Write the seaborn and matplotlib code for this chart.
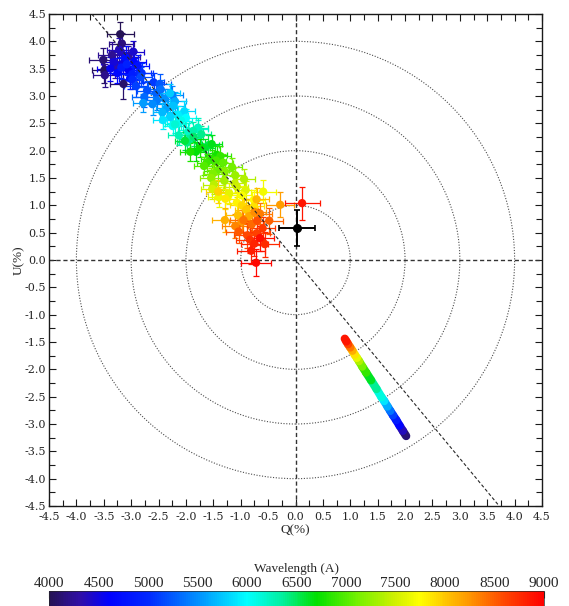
import numpy as np
import pandas as pd
import matplotlib
matplotlib.use("Agg")
import matplotlib.pyplot as plt
import seaborn as sns
from matplotlib.colors import LinearSegmentedColormap, Normalize
from matplotlib.collections import LineCollection
from matplotlib.patches import Circle
from matplotlib.ticker import MultipleLocator, FormatStrFormatter
from matplotlib.cm import ScalarMappable

# ---------------- data ----------------
wavelength = [
    4000, 4040, 4080, 4120, 4160, 4200, 4240, 4280, 4320, 4360,
    4400, 4440, 4480, 4520, 4560, 4600, 4640, 4680, 4720, 4760,
    4800, 4840, 4880, 4920, 4960, 5000, 5040, 5080, 5120, 5160,
    5200, 5240, 5280, 5320, 5360, 5400, 5440, 5480, 5520, 5560,
    5600, 5640, 5680, 5720, 5760, 5800, 5840, 5880, 5920, 5960,
    6000, 6040, 6080, 6120, 6160, 6200, 6240, 6280, 6320, 6360,
    6400, 6440, 6480, 6520, 6560, 6600, 6640, 6680, 6720, 6760,
    6800, 6840, 6880, 6920, 6960, 7000, 7040, 7080, 7120, 7160,
    7200, 7240, 7280, 7320, 7360, 7400, 7440, 7480, 7520, 7560,
    7600, 7640, 7680, 7720, 7760, 7800, 7840, 7880, 7920, 7960,
    8000, 8040, 8080, 8120, 8160, 8200, 8240, 8280, 8320, 8360,
    8400, 8440, 8480, 8520, 8560, 8600, 8640, 8680, 8720, 8760,
    8800, 8840, 8880, 8920, 8960]

q_pct = [
    -3.20, -3.49, -3.14, -3.51, -3.17, -3.48, -3.35, -3.05, -3.30, -3.22,
    -3.19, -2.96, -3.32, -3.14, -3.38, -3.05, -2.95, -3.25, -3.10, -3.02,
    -2.88, -3.18, -2.98, -3.08, -2.85, -2.98, -2.81, -2.59, -2.91, -2.82,
    -2.71, -2.48, -2.54, -2.76, -2.46, -2.53, -2.25, -2.61, -2.39, -2.78,
    -2.35, -2.20, -2.43, -2.23, -2.29, -2.29, -2.03, -2.42, -2.15, -2.15,
    -2.00, -2.24, -2.09, -1.78, -2.20, -1.96, -1.78, -2.13, -1.87, -1.93,
    -1.72, -1.98, -1.86, -1.59, -2.02, -1.66, -1.53, -1.82, -1.74, -1.44,
    -1.92, -1.53, -1.37, -1.62, -1.45, -1.67, -1.32, -1.41, -1.16, -1.51,
    -1.29, -1.54, -1.10, -1.30, -0.94, -1.49, -1.11, -1.07, -1.52, -0.91,
    -1.21, -1.40, -0.59, -0.98, -0.76, -1.07, -1.28, -0.76, -0.98, -1.41,
    -0.90, -1.05, -0.71, -1.29, -0.85, -0.28, -0.98, -0.75, -1.10, -0.65,
    -0.95, -0.80, -0.48, -1.04, -0.70, -0.88, -0.71, -0.60, -0.83, -0.56,
    -0.75, -0.81, 0.12, -0.65, -0.72]

u_pct = [
    4.13, 3.47, 3.22, 3.66, 3.96, 3.38, 3.75, 3.72, 3.55, 3.85,
    3.81, 3.81, 3.62, 3.60, 3.50, 3.48, 3.62, 3.42, 3.70, 3.32,
    3.55, 3.52, 3.40, 3.58, 3.42, 3.30, 3.42, 3.25, 3.18, 3.35,
    3.10, 3.22, 3.05, 2.98, 3.12, 2.92, 3.02, 2.85, 2.95, 2.87,
    2.78, 2.90, 2.70, 2.82, 3.05, 2.62, 2.72, 2.56, 2.66, 2.50,
    2.60, 2.45, 2.55, 2.40, 2.48, 2.35, 2.42, 2.28, 2.36, 2.22,
    2.30, 2.15, 2.25, 2.10, 2.18, 2.05, 2.12, 1.98, 2.05, 1.92,
    1.98, 1.85, 1.90, 1.78, 1.82, 1.72, 1.78, 1.65, 1.70, 1.58,
    1.62, 1.50, 1.55, 1.45, 1.48, 1.38, 1.40, 1.34, 1.30, 1.28,
    1.22, 1.15, 1.25, 1.18, 1.10, 1.05, 1.12, 0.98, 1.00, 1.25,
    0.92, 0.82, 1.11, 0.73, 0.80, 1.01, 0.70, 0.88, 0.62, 0.85,
    0.73, 0.65, 0.72, 0.52, 0.72, 0.45, 0.49, 0.58, 0.37, 0.29,
    0.30, 0.17, 1.04, 0.40, -0.05]

q_err = [
    0.25, 0.22, 0.24, 0.26, 0.23, 0.22, 0.25, 0.21, 0.24, 0.22,
    0.22, 0.20, 0.23, 0.21, 0.24, 0.20, 0.22, 0.21, 0.23, 0.20,
    0.21, 0.22, 0.20, 0.23, 0.21, 0.20, 0.21, 0.19, 0.22, 0.20,
    0.19, 0.21, 0.20, 0.22, 0.19, 0.20, 0.19, 0.21, 0.20, 0.18,
    0.19, 0.20, 0.18, 0.21, 0.19, 0.18, 0.20, 0.19, 0.18, 0.20,
    0.19, 0.18, 0.20, 0.19, 0.18, 0.18, 0.19, 0.20, 0.18, 0.19,
    0.18, 0.19, 0.18, 0.20, 0.18, 0.19, 0.18, 0.19, 0.18, 0.19,
    0.18, 0.19, 0.20, 0.18, 0.19, 0.19, 0.18, 0.20, 0.19, 0.18,
    0.19, 0.20, 0.18, 0.19, 0.20, 0.20, 0.19, 0.21, 0.20, 0.19,
    0.21, 0.20, 0.23, 0.19, 0.20, 0.21, 0.20, 0.19, 0.21, 0.23,
    0.21, 0.22, 0.23, 0.24, 0.22, 0.25, 0.23, 0.22, 0.24, 0.22,
    0.24, 0.22, 0.26, 0.23, 0.24, 0.25, 0.24, 0.23, 0.26, 0.25,
    0.24, 0.26, 0.32, 0.25, 0.27]

u_err = [
    0.23, 0.24, 0.27, 0.22, 0.20, 0.21, 0.23, 0.20, 0.22, 0.21,
    0.20, 0.19, 0.21, 0.20, 0.22, 0.19, 0.20, 0.19, 0.21, 0.19,
    0.20, 0.19, 0.18, 0.20, 0.19, 0.18, 0.19, 0.17, 0.20, 0.18,
    0.17, 0.19, 0.18, 0.19, 0.17, 0.18, 0.17, 0.19, 0.18, 0.17,
    0.17, 0.18, 0.17, 0.19, 0.17, 0.17, 0.18, 0.17, 0.16, 0.18,
    0.17, 0.16, 0.18, 0.17, 0.16, 0.16, 0.17, 0.18, 0.16, 0.17,
    0.16, 0.17, 0.16, 0.18, 0.16, 0.17, 0.16, 0.17, 0.16, 0.17,
    0.16, 0.17, 0.18, 0.16, 0.17, 0.17, 0.16, 0.18, 0.17, 0.16,
    0.17, 0.18, 0.16, 0.17, 0.18, 0.18, 0.17, 0.19, 0.18, 0.17,
    0.19, 0.18, 0.21, 0.17, 0.18, 0.19, 0.18, 0.17, 0.19, 0.21,
    0.19, 0.20, 0.21, 0.22, 0.20, 0.23, 0.21, 0.20, 0.22, 0.20,
    0.22, 0.20, 0.24, 0.21, 0.22, 0.23, 0.22, 0.21, 0.24, 0.23,
    0.22, 0.24, 0.30, 0.23, 0.25]

# interstellar (ISP) estimate point
isp_q, isp_u, isp_qerr, isp_uerr = 0.02, 0.58, 0.33, 0.33

# model (intrinsic) track
model_wavelength = [4000, 4250, 4500, 4750, 5000, 5250, 5500, 5750, 6000, 6250,
                    6500, 6750, 7000, 7250, 7500, 7750, 8000, 8250, 8500, 8750, 9000]
model_q = [2.02, 1.96, 1.90, 1.84, 1.78, 1.73, 1.68, 1.62, 1.57, 1.48,
           1.38, 1.29, 1.22, 1.16, 1.12, 1.08, 1.04, 1.00, 0.96, 0.93, 0.90]
model_u = [-3.22, -3.125, -3.03, -2.93, -2.84, -2.76, -2.68, -2.58, -2.51, -2.36,
           -2.20, -2.06, -1.95, -1.85, -1.79, -1.73, -1.66, -1.60, -1.54, -1.49, -1.44]

# dominant-axis slope through the origin
axis_slope = -1.21
circle_radii = [1, 2, 3, 4]

cbar_ticks = [4000, 4500, 5000, 5500, 6000, 6500, 7000, 7500, 8000, 8500, 9000]

# ---------------- colormap ----------------
cmap_wl = [4000, 4300, 4600, 5000, 5500, 6000, 6350, 6700, 7100, 7500, 7750, 8000, 8300, 8600, 9000]
cmap_col = ["#251255", "#300fa5", "#0000ff", "#0028ff", "#0090ff", "#00ffff", "#00f0a0",
            "#00e000", "#70f000", "#d0f000", "#ffff00", "#ffc800", "#ff8c00", "#ff4800", "#ff0000"]
cmap = LinearSegmentedColormap.from_list(
    "wl", [((w - 4000) / 5000, c) for w, c in zip(cmap_wl, cmap_col)])
norm = Normalize(vmin=4000, vmax=9000)

# ---------------- figure ----------------
sns.set_style("ticks")
plt.rcParams["font.family"] = ["DejaVu Serif"]

W, H = 569, 606
fig = plt.figure(figsize=(W / 100, H / 100), dpi=100)
ax = fig.add_axes([49 / W, 1 - 506 / H, 493 / W, 492 / H])

df = pd.DataFrame({"wavelength": wavelength, "Q": q_pct, "U": u_pct,
                   "eQ": q_err, "eU": u_err})

# circles and reference lines
for r in circle_radii:
    ax.add_patch(Circle((0, 0), r, fill=False, ls=(0, (1, 1.5)), lw=0.8,
                        color="0.3", zorder=1))
ax.axhline(0, color="0.2", ls=(0, (3, 2)), lw=1.0, zorder=1)
ax.axvline(0, color="0.2", ls=(0, (3, 2)), lw=1.0, zorder=1)
ax.axline((0, 0), slope=axis_slope, color="0.15", ls=(0, (3, 2)), lw=0.8, zorder=4)

# error bars
for _, row in df.iterrows():
    c = cmap(norm(row["wavelength"]))
    ax.errorbar(row["Q"], row["U"], xerr=row["eQ"], yerr=row["eU"], fmt="none",
                ecolor=c, elinewidth=0.9, capsize=2.2, capthick=0.9, zorder=2)

sns.scatterplot(data=df, x="Q", y="U", hue="wavelength", palette=cmap, hue_norm=norm,
                s=36, edgecolor="none", linewidth=0, legend=False, ax=ax, zorder=3)

# ISP point
ax.errorbar(isp_q, isp_u, xerr=isp_qerr, yerr=isp_uerr, fmt="o", color="black",
            ms=5.5, elinewidth=1.4, capsize=2.2, capthick=1.2, zorder=5)

# model track
pts = np.column_stack([model_q, model_u])
segs = np.stack([pts[:-1], pts[1:]], axis=1)
mid_wl = [(a + b) / 2 for a, b in zip(model_wavelength[:-1], model_wavelength[1:])]
lc = LineCollection(segs, colors=[cmap(norm(w)) for w in mid_wl], linewidths=6,
                    capstyle="round", joinstyle="round", zorder=4)
ax.add_collection(lc)

# axes formatting
ax.set_xlim(-4.5, 4.5)
ax.set_ylim(-4.5, 4.5)
ax.xaxis.set_major_locator(MultipleLocator(0.5))
ax.yaxis.set_major_locator(MultipleLocator(0.5))
ax.xaxis.set_minor_locator(MultipleLocator(0.25))
ax.yaxis.set_minor_locator(MultipleLocator(0.25))
ax.xaxis.set_major_formatter(FormatStrFormatter("%.1f"))
ax.yaxis.set_major_formatter(FormatStrFormatter("%.1f"))
ax.tick_params(which="both", direction="in", top=True, right=True, width=0.8,
               color="0.1", labelsize=8)
ax.tick_params(axis="x", pad=4)
ax.tick_params(axis="y", pad=2)
ax.tick_params(which="major", length=5)
ax.tick_params(which="minor", length=4)
for s in ax.spines.values():
    s.set_linewidth(1.0)
    s.set_color("0.1")
ax.set_xlabel("Q(%)", family=["Liberation Serif"], fontsize=9.5, labelpad=2)
ax.set_ylabel("U(%)", family=["Liberation Serif"], fontsize=9.5, labelpad=0)

# colorbar
cax = fig.add_axes([49 / W, 0.0, 495 / W, 15 / H])
sm = ScalarMappable(norm=norm, cmap=cmap)
cb = fig.colorbar(sm, cax=cax, orientation="horizontal")
cb.outline.set_linewidth(0.5)
cax.xaxis.set_ticks_position("top")
cax.xaxis.set_label_position("top")
cb.set_ticks(cbar_ticks)
cax.xaxis.set_minor_locator(MultipleLocator(250))
cax.tick_params(which="both", direction="in", color="0.2", width=0.8,
                labelsize=11, pad=1)
cax.tick_params(which="major", length=5)
cax.tick_params(which="minor", length=3)
for lab in cax.get_xticklabels():
    lab.set_family(["Liberation Serif"])
cb.set_label("Wavelength (A)", family=["Liberation Serif"], fontsize=9.5, labelpad=3)

fig.savefig("out.png", dpi=100)
